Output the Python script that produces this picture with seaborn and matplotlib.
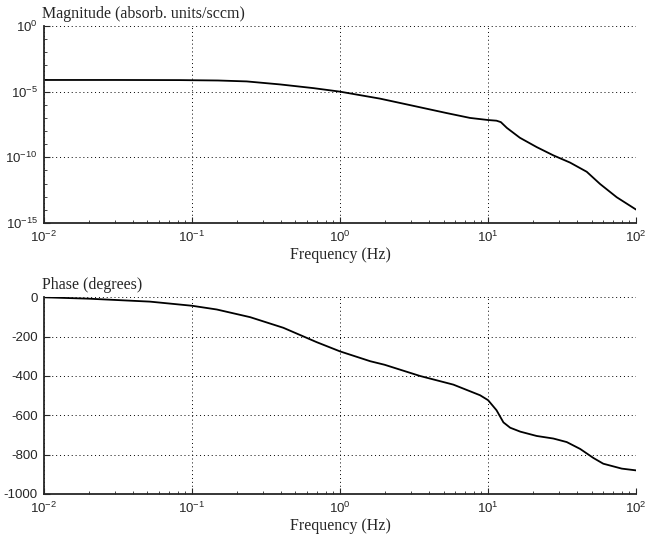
import numpy as np
import pandas as pd
import matplotlib
matplotlib.use("Agg")
import matplotlib.pyplot as plt
import matplotlib.ticker as mticker
import seaborn as sns

# ---- data ----
freq_hz = [0.01, 0.03, 0.083, 0.15, 0.234, 0.394, 0.66, 1.0, 1.86, 3.13, 5.25, 7.55,
           10.0, 11.4, 12.2, 13.4, 16.4, 21.3, 27.6, 35.8, 46.4, 57.1, 74.0, 100.0]
mag_log10 = [-4.11, -4.11, -4.12, -4.15, -4.22, -4.45, -4.73, -5.0, -5.53, -6.08, -6.63,
             -7.0, -7.16, -7.21, -7.32, -7.76, -8.51, -9.22, -9.85, -10.4, -11.1, -12.03,
             -13.04, -13.98]

phase_freq_hz = [0.01, 0.02, 0.052, 0.1, 0.147, 0.247, 0.414, 0.695, 1.0, 1.6, 2.0, 3.47,
                 5.83, 8.83, 10.0, 11.4, 12.7, 14.1, 16.5, 21.3, 27.6, 34.0, 41.9, 51.5,
                 60.0, 80.0, 100.0]
phase_deg = [0, -7, -22, -43, -62, -101, -155, -228, -275, -325, -343, -400,
             -444, -498, -523, -574, -636, -663, -683, -705, -718, -736, -771, -817,
             -846, -871, -880]

mag_df = pd.DataFrame({"f": freq_hz, "mag": [10.0 ** v for v in mag_log10]})
ph_df = pd.DataFrame({"f": phase_freq_hz, "phase": phase_deg})

sns.set_style("ticks")
plt.rcParams["font.family"] = ["Liberation Sans", "DejaVu Sans"]
plt.rcParams["mathtext.default"] = "regular"
plt.rcParams["axes.unicode_minus"] = False

fig = plt.figure(figsize=(6.45, 5.38), dpi=100)
ax1 = fig.add_axes([0.0682, 0.5855, 0.918, 0.3662])
ax2 = fig.add_axes([0.0682, 0.0818, 0.918, 0.3656])

serif = ["Liberation Serif", "DejaVu Serif"]

sns.lineplot(data=mag_df, x="f", y="mag", ax=ax1, color="black", linewidth=1.3)
sns.lineplot(data=ph_df, x="f", y="phase", ax=ax2, color="black", linewidth=1.3)

ax1.set_xscale("log")
ax1.set_yscale("log")
ax1.set_xlim(1e-2, 1e2)
ax1.set_ylim(1e-15, 1e0)
ax1.yaxis.set_major_locator(mticker.FixedLocator([1e-15, 1e-10, 1e-5, 1e0]))
ax1.yaxis.set_major_formatter(mticker.LogFormatterSciNotation())
ax1.yaxis.set_minor_locator(mticker.FixedLocator([10.0 ** k for k in range(-15, 1)]))
ax1.yaxis.set_minor_formatter(mticker.NullFormatter())

ax2.set_xscale("log")
ax2.set_xlim(1e-2, 1e2)
ax2.set_ylim(-1000, 0)
ax2.yaxis.set_major_locator(mticker.MultipleLocator(200))

for ax, title in ((ax1, "Magnitude (absorb. units/sccm)"), (ax2, "Phase (degrees)")):
    ax.xaxis.set_major_locator(mticker.LogLocator(base=10, numticks=10))
    ax.xaxis.set_minor_locator(mticker.LogLocator(base=10, subs=np.arange(2, 10), numticks=20))
    ax.xaxis.set_minor_formatter(mticker.NullFormatter())
    ax.grid(True, which="major", linestyle=(0, (1, 3)), color="black", linewidth=0.7)
    ax.set_axisbelow(True)
    for s in ("top", "right"):
        ax.spines[s].set_visible(False)
    for s in ("left", "bottom"):
        ax.spines[s].set_linewidth(1.3)
    ax.tick_params(which="major", direction="in", length=4, width=0.8, labelsize=9.5)
    ax.tick_params(axis="x", which="major", pad=5)
    ax.tick_params(axis="y", which="major", pad=4.5)
    ax.tick_params(which="minor", direction="in", length=2.5, width=0.6)
    ax.set_xlabel("Frequency (Hz)", family=serif, fontsize=11.5, labelpad=1)
    ax.set_ylabel("")
    ax.set_title(title, family=serif, fontsize=11.5, loc="left", pad=6, x=-0.004)

fig.savefig("out.png", dpi=100)
